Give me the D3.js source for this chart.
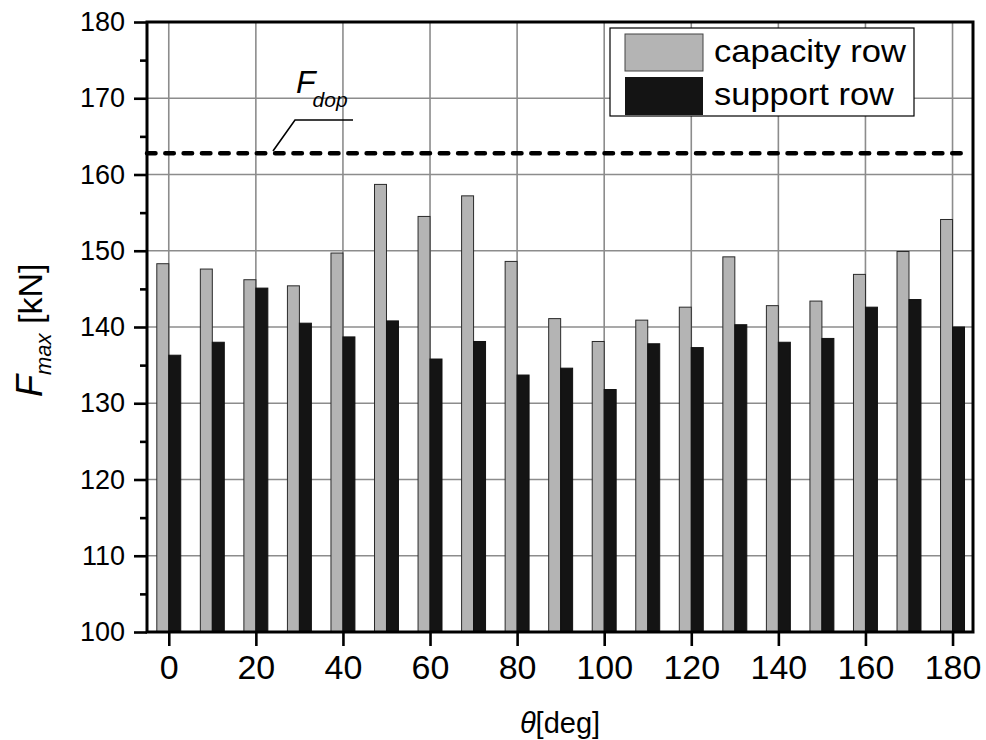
<!DOCTYPE html>
<html>
<head>
<meta charset="utf-8">
<script src="https://cdn.jsdelivr.net/npm/d3@7"></script>
<style>
  body { margin: 0; background: #fff; }
  svg { font-family: "Liberation Sans", Arial, sans-serif; }
</style>
</head>
<body>
<script>
// angles [deg]
const angles = [0, 10, 20, 30, 40, 50, 60, 70, 80, 90, 100, 110, 120, 130, 140, 150, 160, 170, 180];
// capacity row, Fmax [kN]
const capacityRow = [148.3, 147.6, 146.2, 145.4, 149.7, 158.7, 154.5, 157.2, 148.6, 141.1, 138.1, 140.9, 142.6, 149.2, 142.8, 143.4, 146.9, 149.9, 154.1];
// support row, Fmax [kN]
const supportRow = [136.3, 138.0, 145.1, 140.5, 138.7, 140.8, 135.8, 138.1, 133.7, 134.6, 131.8, 137.8, 137.3, 140.3, 138.0, 138.5, 142.6, 143.6, 140.0];
const fDop = 162.8;
const xTicks = [0, 20, 40, 60, 80, 100, 120, 140, 160, 180];
const yTicks = [100, 110, 120, 130, 140, 150, 160, 170, 180];
const yMinorTicks = [105, 115, 125, 135, 145, 155, 165, 175];
const legendLabels = ["capacity row", "support row"];

const W = 986, H = 740;
const margin = {top: 22, right: 13, bottom: 108, left: 147};
const width = W - margin.left - margin.right;
const height = H - margin.top - margin.bottom;

const svg = d3.select("body").append("svg")
  .attr("width", W).attr("height", H);
const g = svg.append("g").attr("transform", `translate(${margin.left},${margin.top})`);

const x = d3.scaleLinear().domain([-5, 184.7]).range([0, width]);
const y = d3.scaleLinear().domain([100, 180]).range([height, 0]);

// grid
g.append("g").selectAll("line.vg")
  .data(xTicks).join("line")
  .attr("x1", d => x(d)).attr("x2", d => x(d))
  .attr("y1", 0).attr("y2", height)
  .attr("stroke", "#8c8c8c").attr("stroke-width", 1.6);
g.append("g").selectAll("line.hg")
  .data(yTicks.slice(1, -1)).join("line")
  .attr("x1", 0).attr("x2", width)
  .attr("y1", d => y(d)).attr("y2", d => y(d))
  .attr("stroke", "#8c8c8c").attr("stroke-width", 1.6);

// F_dop line
g.append("line")
  .attr("x1", 0).attr("x2", x(182.7))
  .attr("y1", y(fDop)).attr("y2", y(fDop))
  .attr("stroke", "#000").attr("stroke-width", 4.5)
  .attr("stroke-linecap", "round")
  .attr("stroke-dasharray", "8.5,9.8");

// bars
const bw = 2.75;
const data = angles.map((a, i) => ({a, cap: capacityRow[i], sup: supportRow[i]}));
g.append("g").selectAll("rect")
  .data(data).join("rect")
  .attr("x", d => x(d.a - bw))
  .attr("y", d => y(d.cap))
  .attr("width", x(bw) - x(0))
  .attr("height", d => y(100) - y(d.cap))
  .attr("fill", "#b4b4b4").attr("stroke", "#2a2a2a").attr("stroke-width", 1);
g.append("g").selectAll("rect")
  .data(data).join("rect")
  .attr("x", d => x(d.a))
  .attr("y", d => y(d.sup))
  .attr("width", x(bw) - x(0))
  .attr("height", d => y(100) - y(d.sup))
  .attr("fill", "#141414").attr("stroke", "#111").attr("stroke-width", 1);

// axes
const yAxis = g.append("g")
  .call(d3.axisLeft(y).tickValues(yTicks).tickSize(13).tickPadding(9).tickSizeOuter(0));
const yMinor = g.append("g")
  .call(d3.axisLeft(y).tickValues(yMinorTicks).tickSize(7).tickFormat("").tickSizeOuter(0));
const xAxis = g.append("g")
  .attr("transform", `translate(0,${height})`)
  .call(d3.axisBottom(x).tickValues(xTicks).tickSize(14).tickPadding(9).tickSizeOuter(0));

[yAxis, yMinor, xAxis].forEach(a => {
  a.select(".domain").remove();
  a.selectAll(".tick line").attr("stroke", "#000").attr("stroke-width", 2.6);
});
yAxis.selectAll(".tick text")
  .attr("font-size", 27).attr("fill", "#000")
  .attr("font-family", "Liberation Sans, Arial, sans-serif");
xAxis.selectAll(".tick text")
  .attr("font-size", 34).attr("fill", "#000")
  .attr("font-family", "Liberation Sans, Arial, sans-serif");

// frame
g.append("rect")
  .attr("x", 0).attr("y", 0).attr("width", width).attr("height", height)
  .attr("fill", "none").attr("stroke", "#000").attr("stroke-width", 3);

// F_dop label and leader
svg.append("path")
  .attr("d", "M273,151 L295,120 L353,120")
  .attr("fill", "none").attr("stroke", "#000").attr("stroke-width", 1.6);
const fd = svg.append("text").attr("x", 296).attr("y", 93)
  .attr("font-style", "italic").attr("font-size", 32);
fd.append("tspan").text("F");
fd.append("tspan").attr("font-size", 21).attr("dx", -3).attr("dy", 14).text("dop");

// legend
const lg = svg.append("g");
lg.append("rect")
  .attr("x", 610).attr("y", 28).attr("width", 304).attr("height", 88)
  .attr("fill", "#fff").attr("stroke", "#000").attr("stroke-width", 1.2);
lg.append("rect")
  .attr("x", 625).attr("y", 34).attr("width", 78).attr("height", 37)
  .attr("fill", "#b4b4b4").attr("stroke", "#444").attr("stroke-width", 1);
lg.append("rect")
  .attr("x", 625).attr("y", 77).attr("width", 78).attr("height", 38)
  .attr("fill", "#141414");
lg.selectAll("text.leg")
  .data(legendLabels).join("text")
  .attr("x", 714).attr("y", (d, i) => 62 + i * 43)
  .attr("font-size", 32).attr("fill", "#000")
  .attr("textLength", (d, i) => i === 0 ? 192 : 180)
  .attr("lengthAdjust", "spacingAndGlyphs")
  .text(d => d);

// y label
const yl = svg.append("text")
  .attr("transform", "translate(42,397) rotate(-90)")
  .attr("font-size", 36).attr("fill", "#000");
yl.append("tspan").attr("font-style", "italic").text("F");
yl.append("tspan").attr("font-style", "italic").attr("font-size", 22).attr("dy", 9).text("max");
yl.append("tspan").attr("font-size", 34).attr("dy", -9).text(" [kN]");

// x label
const xl = svg.append("text")
  .attr("x", margin.left + width / 2).attr("y", 733)
  .attr("text-anchor", "middle").attr("font-size", 29).attr("fill", "#000");
xl.append("tspan").attr("font-style", "italic").text("θ");
xl.append("tspan").text("[deg]");
</script>
</body>
</html>
